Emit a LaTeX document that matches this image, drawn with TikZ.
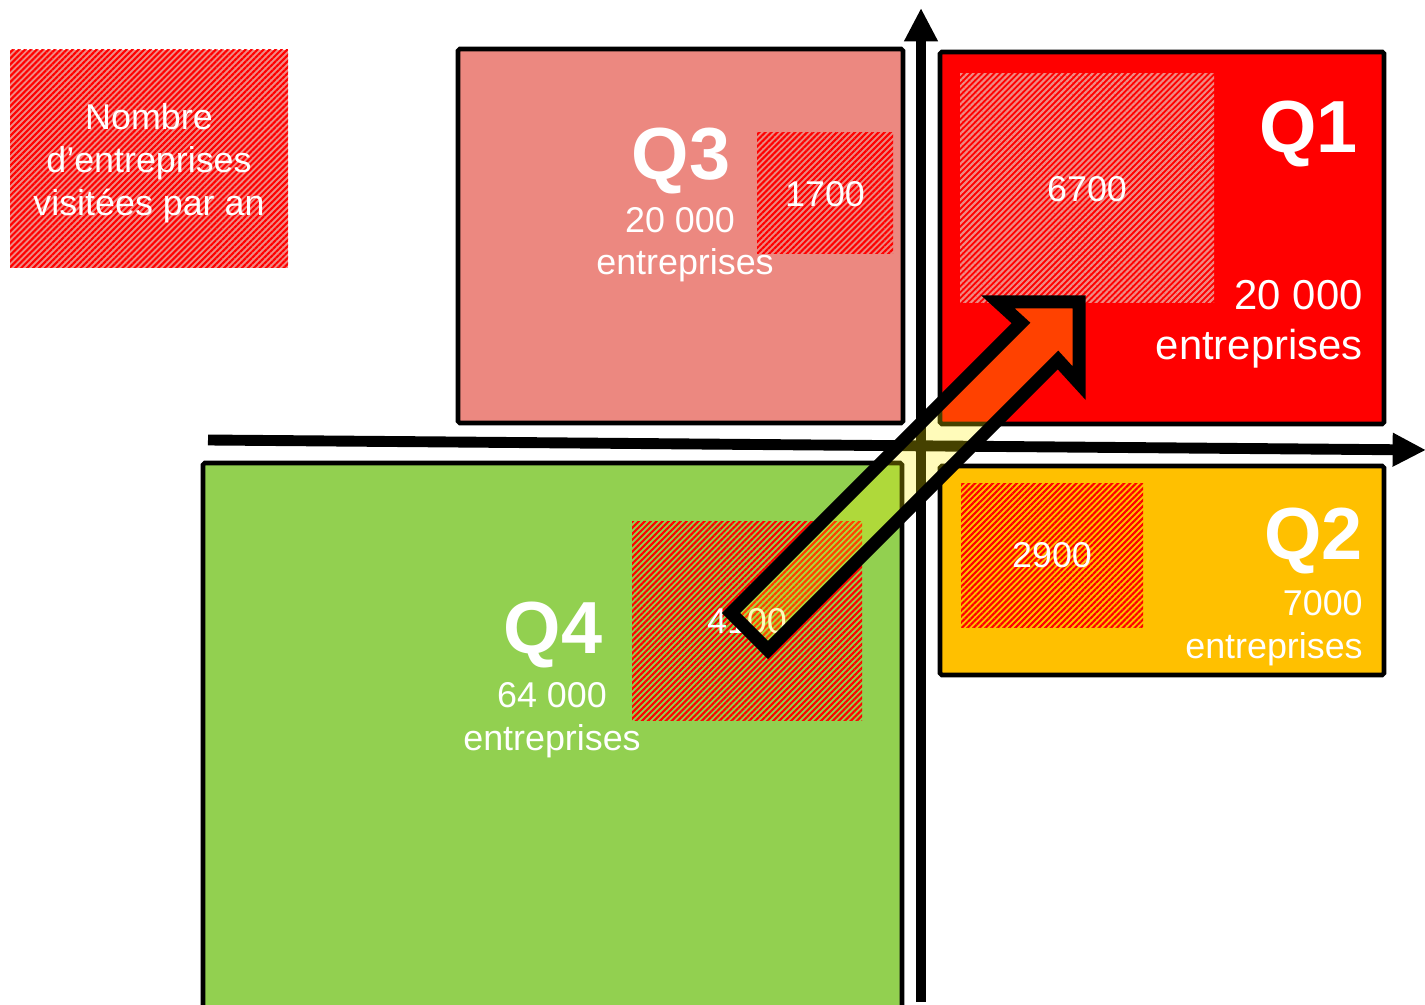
\documentclass[tikz,border=0pt]{standalone}
\usepackage{fontspec}
\setmainfont{Liberation Sans}
\usetikzlibrary{positioning,fit,patterns.meta,arrows.meta}
\definecolor{qone}{HTML}{FF0000}
\definecolor{qtwo}{HTML}{FFC000}
\definecolor{qthree}{HTML}{EC8880}
\definecolor{qfour}{HTML}{92D050}
\definecolor{pinkred}{HTML}{F08A84}
\begin{document}
\begin{tikzpicture}[x=0.2mm, y=-0.2mm,
  qbox/.style={draw=black, line width=2.6pt, inner sep=0pt, rounded corners=1pt},
  hatch/.style={inner sep=0pt, postaction={pattern={Lines[angle=45,distance=2.4pt,line width=1.2pt]}, pattern color=#1}},
  hatch/.default=red,
  txt/.style={text=white, font=\fontsize{20.4}{24.4}\selectfont, inner sep=0pt},
  big/.style={text=white, font=\fontsize{23.8}{28.3}\selectfont, inner sep=0pt},
  qlab/.style={text=white, font=\fontsize{42}{48}\selectfont\bfseries, inner sep=0pt},
  axis/.style={line width=6.2pt, -{Triangle[width=18pt,length=19pt]}}]
\useasboundingbox (0,0) rectangle (1425,1005);
\clip (0,0) rectangle (1425,1005);
% legend
\node[fit={(10,50) (288,268)}, fill=pinkred, hatch] (legend) {};
\node[txt, align=center] (legtxt) at (149,163) {Nombre\\d'entreprises\\visitées par an};
% quadrants
\node[qbox, fill=qthree, fit={(458,49) (903,423)}] (box3) {};
\node[qbox, fill=qone, fit={(940,52) (1384,424)}] (box1) {};
\node[qbox, fill=qtwo, fit={(940,466) (1384,675)}] (box2) {};
\node[qbox, fill=qfour, fit={(203,463) (902,1040)}] (box4) {};
% visited
\node[hatch, fit={(757,133) (893,254)}] (hatch3) {};
\node[hatch=pinkred, fit={(960,74) (1214,303)}] (hatch1) {};
\node[hatch, fit={(961,484) (1143,627)}] (hatch2) {};
\node[hatch, fit={(632,522) (862,720)}] (hatch4) {};
\node[txt, anchor=base] (vis3) at (825,207) {1700};
\node[txt, anchor=base] (vis1) at (1087,202) {6700};
\node[txt, anchor=base] (vis2) at (1052,568) {2900};
\node[txt, anchor=base] (vis4) at (747,633) {4100};
% Q3
\node[qlab, anchor=base] (lab3) at (681,180) {Q3};
\node[txt, anchor=base] (num3) at (680,233) {20 000};
\node[txt, anchor=base] (ent3) at (685,275) {entreprises};
% Q1
\node[qlab, anchor=base east] (lab1) at (1358,153) {Q1};
\node[big, anchor=base east] (num1) at (1363,310) {20 000};
\node[big, anchor=base east] (ent1) at (1363,360) {entreprises};
% Q2
\node[qlab, anchor=base east] (lab2) at (1363,560) {Q2};
\node[txt, anchor=base east] (num2) at (1363,616) {7000};
\node[txt, anchor=base east] (ent2) at (1363,658) {entreprises};
% Q4
\node[qlab, anchor=base] (lab4) at (553,653) {Q4};
\node[txt, anchor=base] (num4) at (552,707) {64 000};
\node[txt, anchor=base] (ent4) at (552,750) {entreprises};
% axes
\coordinate (xo) at (208,440);
\coordinate (xe) at (1426,450);
\coordinate (yo) at (921,1002);
\coordinate (ye) at (921,8);
\draw[axis] (xo) -- (xe);
\draw[axis] (yo) -- (ye);
% move Q4 -> Q1
\draw[line width=7.4pt, fill=yellow, fill opacity=0.27] (731,613) -- (1021,323) -- (998,302) -- (1079,302) -- (1079,383) -- (1058,360) -- (768,650) -- cycle;
\end{tikzpicture}
\end{document}
